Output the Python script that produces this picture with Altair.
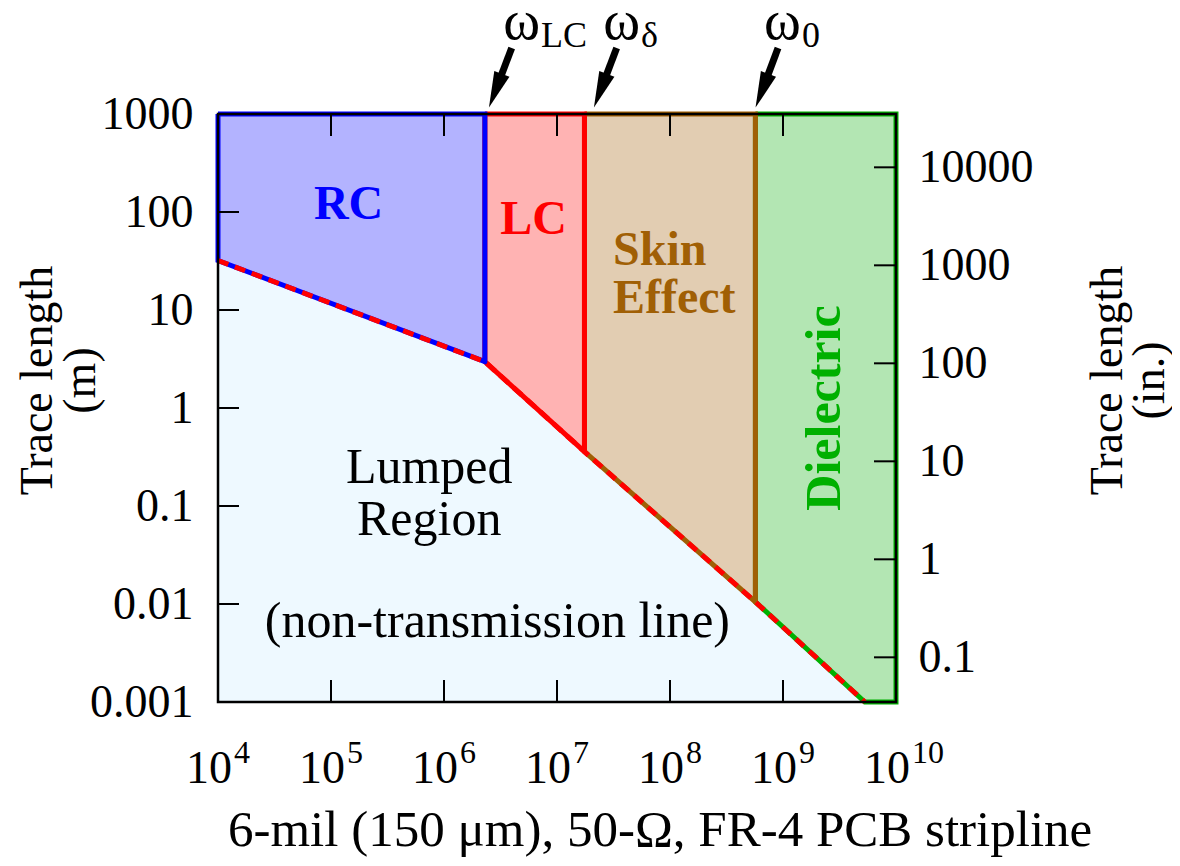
import altair as alt
import pandas as pd

FONT = "Liberation Serif"
W, H = 678, 588

x_domain = [1e4, 1e10]
y_domain = [1e-3, 1e3]
in_per_m = 35.0  # right-hand (inch) axis as drawn in the figure

# Boundary of the lumped region: corner frequencies (rad/s) and lengths (m)
corner_w = [1e4, 2.3e6, 1.75e7, 5.7e8, 5.3e9, 1e10]
corner_len = [32.0, 2.97, 0.358, 0.0105, 0.001, 0.001]

region_names = ["RC", "LC", "Skin Effect", "Dielectric"]
region_first = [0, 1, 2, 3]
region_last = [1, 2, 3, 5]
region_fill = ["#b3b3ff", "#ffb3b3", "#e2cdb2", "#b3e6b3"]
region_edge = ["#0000ff", "#ff0000", "#a05f05", "#00b000"]
lumped_fill = "#eef9ff"

x_tick_vals = [1e5, 1e6, 1e7, 1e8, 1e9]
x_exponents = [4, 5, 6, 7, 8, 9, 10]
ym_tick_vals = [100, 10, 1, 0.1, 0.01]
ym_label_vals = [1000, 100, 10, 1, 0.1, 0.01, 0.001]
yin_tick_vals = [10000, 1000, 100, 10, 1, 0.1]

x_title = "6-mil (150 μm), 50-Ω, FR-4 PCB stripline"
x_title_x = 10 ** 7.912

# region labels (data coordinates)
label_text = ["RC", "LC", "Skin\nEffect", "Dielectric"]
label_x = [1.43e5, 6.2e6, 3.13e7, 2.36e9]
label_y = [118.0, 83.0, 28.8, 1.0]
lumped_x = [7.4e5, 2.97e6]
lumped_y = [0.172, 0.0046]
lumped_text = ["Lumped\nRegion", "(non-transmission line)"]

# omega markers above the plot
omega_sub = ["LC", "δ", "0"]
omega_x = [10 ** 6.850, 10 ** 7.735, 10 ** 9.159]
omega_y = [10 ** 3.765, 10 ** 3.765, 10 ** 3.765]
omega_sub_y = [10 ** 3.684, 10 ** 3.684, 10 ** 3.684]
arrow_start_x = [10 ** 6.599, 10 ** 7.528, 10 ** 8.956]
arrow_start_y = [10 ** 3.673, 10 ** 3.673, 10 ** 3.673]
arrow_tip_x = [10 ** 6.407, 10 ** 7.336, 10 ** 8.767]
arrow_tip_y = [10 ** 3.092, 10 ** 3.092, 10 ** 3.092]

xs = alt.Scale(type="log", domain=x_domain, nice=False)
ys = alt.Scale(type="log", domain=y_domain, nice=False)
ys_in = alt.Scale(type="log", domain=[y_domain[0] * in_per_m, y_domain[1] * in_per_m], nice=False)


def xe(f="x"):
    return alt.X(f"{f}:Q", scale=xs, axis=None)


def ye(f="y", axis=None):
    if axis is None:
        return alt.Y(f"{f}:Q", scale=ys, axis=None)
    return alt.Y(f"{f}:Q", scale=ys, axis=axis)


layers = []

# lumped region fill
lumped = pd.DataFrame({"x": corner_w, "y": [y_domain[0]] * len(corner_w), "y2": corner_len})
layers.append(alt.Chart(lumped).mark_area(color=lumped_fill).encode(x=xe(), y=ye(), y2=alt.Y2("y2:Q")))

# region fills
for i in range(4):
    a, b = region_first[i], region_last[i]
    df = pd.DataFrame({"x": corner_w[a:b + 1], "y": corner_len[a:b + 1],
                       "y2": [y_domain[1]] * (b - a + 1)})
    layers.append(alt.Chart(df).mark_area(color=region_fill[i]).encode(
        x=xe(), y=ye(), y2=alt.Y2("y2:Q")))

# region outlines
for i in [3, 2, 1, 0]:
    a, b = region_first[i], region_last[i]
    px = [corner_w[a]] + corner_w[a:b + 1] + [corner_w[b], corner_w[a]]
    py = [y_domain[1]] + corner_len[a:b + 1] + [y_domain[1], y_domain[1]]
    df = pd.DataFrame({"x": px, "y": py, "o": list(range(len(px)))})
    layers.append(alt.Chart(df).mark_line(color=region_edge[i], strokeWidth=5).encode(
        x=xe(), y=ye(), order="o:Q"))

# dashed red boundary of the lumped region
dash = pd.DataFrame({"x": corner_w[:5], "y": corner_len[:5]})
layers.append(alt.Chart(dash).mark_line(color="#ff0000", strokeWidth=5, strokeDash=[11, 7]).encode(
    x=xe(), y=ye()))

# frame with left axis
left_axis = alt.Axis(orient="left", values=ym_label_vals, format="~g", labelFont=FONT, labelFontSize=46,
                     labelColor="black", labelPadding=25, ticks=False, tickSize=0, domain=False,
                     grid=False, labelOverlap=False, title=["Trace length", "(m)"], titleFont=FONT,
                     titleFontSize=46, titleFontWeight="normal", titleColor="black", titleAngle=270,
                     titleAlign="center", titleBaseline="middle", titleX=-181, titleY=266,
                     titleLineHeight=43)
frame_df = pd.DataFrame({"x": [x_domain[0]], "x2": [x_domain[1]], "y": [y_domain[0]], "y2": [y_domain[1]]})
layers.append(alt.Chart(frame_df).mark_rect(fillOpacity=0, stroke="black", strokeWidth=2.5).encode(
    x=xe(), x2=alt.X2("x2:Q"), y=ye(axis=left_axis), y2=alt.Y2("y2:Q")))

# inward ticks
xt = pd.DataFrame({"x": x_tick_vals})
layers.append(alt.Chart(xt).mark_rule(color="black", strokeWidth=2).encode(
    x=xe(), y=alt.value(H), y2=alt.value(H - 22)))
layers.append(alt.Chart(xt).mark_rule(color="black", strokeWidth=2).encode(
    x=xe(), y=alt.value(0), y2=alt.value(22)))
ymt = pd.DataFrame({"y": ym_tick_vals})
layers.append(alt.Chart(ymt).mark_rule(color="black", strokeWidth=2).encode(
    y=ye(), x=alt.value(0), x2=alt.value(21)))

right_axis = alt.Axis(orient="right", values=yin_tick_vals, format="~g", labelFont=FONT, labelFontSize=46,
                      labelColor="black", labelPadding=22, ticks=False, tickSize=0, domain=False,
                      grid=False, labelOverlap=False, title=["Trace length", "(in.)"], titleFont=FONT,
                      titleFontSize=46, titleFontWeight="normal", titleColor="black", titleAngle=270,
                      titleAlign="center", titleBaseline="middle", titleX=211, titleY=266,
                      titleLineHeight=42)
yit = pd.DataFrame({"y": yin_tick_vals})
layers.append(alt.Chart(yit).mark_rule(color="black", strokeWidth=2).encode(
    y=alt.Y("y:Q", scale=ys_in, axis=right_axis), x=alt.value(W), x2=alt.value(W - 22)))

# x tick labels 10^n
xl = pd.DataFrame({"x": [10.0 ** e for e in x_exponents], "e": [str(e) for e in x_exponents]})
layers.append(alt.Chart(xl).mark_text(font=FONT, fontSize=46, align="center", baseline="alphabetic",
                                      dx=-9, color="black").encode(
    x=xe(), y=alt.value(H + 81), text=alt.value("10")))
layers.append(alt.Chart(xl).mark_text(font=FONT, fontSize=32, align="left", baseline="alphabetic",
                                      dx=16, color="black").encode(
    x=xe(), y=alt.value(H + 61), text="e:N"))

# x title
xtitle = pd.DataFrame({"x": [x_title_x], "t": [x_title]})
layers.append(alt.Chart(xtitle).mark_text(font=FONT, fontSize=51, align="center", baseline="alphabetic",
                                          color="black").encode(
    x=xe(), y=alt.value(H + 144), text="t:N"))

# region labels
for i in range(4):
    df = pd.DataFrame({"x": [label_x[i]], "y": [label_y[i]], "t": [label_text[i]]})
    if i == 2:
        mk = alt.Chart(df).mark_text(font=FONT, fontSize=48, fontWeight="bold", color=region_edge[i],
                                     align="left", baseline="alphabetic", lineBreak="\n", lineHeight=48)
    elif i == 3:
        mk = alt.Chart(df).mark_text(font=FONT, fontSize=50, fontWeight="bold", color=region_edge[i],
                                     align="center", baseline="middle", angle=270)
    else:
        mk = alt.Chart(df).mark_text(font=FONT, fontSize=48, fontWeight="bold", color=region_edge[i],
                                     align="center", baseline="middle")
    layers.append(mk.encode(x=xe(), y=ye(), text="t:N"))

lp = pd.DataFrame({"x": lumped_x, "y": lumped_y, "t": lumped_text})
layers.append(alt.Chart(lp).mark_text(font=FONT, fontSize=50, color="black", align="center",
                                      baseline="alphabetic", lineBreak="\n", lineHeight=52).encode(
    x=xe(), y=ye(), text="t:N"))

# arrows
arr = pd.DataFrame({"sx": arrow_start_x, "sy": arrow_start_y, "tx": arrow_tip_x, "ty": arrow_tip_y})
arr["ex"] = arr["tx"] * (arr["sx"] / arr["tx"]) ** 0.3
arr["ey"] = arr["ty"] * (arr["sy"] / arr["ty"]) ** 0.3
arr["hx"] = arr["tx"] * (arr["sx"] / arr["tx"]) ** 0.25
arr["hy"] = arr["ty"] * (arr["sy"] / arr["ty"]) ** 0.25
layers.append(alt.Chart(arr).mark_rule(color="black", strokeWidth=7).encode(
    x=xe("sx"), y=ye("sy"), x2=alt.X2("ex:Q"), y2=alt.Y2("ey:Q")))
layers.append(alt.Chart(arr).mark_point(shape="M-0.45,-1L0.45,-1L0,1Z", filled=True, size=1300, angle=21,
                                        color="black", opacity=1).encode(x=xe("hx"), y=ye("hy")))

om = pd.DataFrame({"x": omega_x, "y": omega_y, "ys": omega_sub_y, "s": omega_sub})
layers.append(alt.Chart(om).mark_text(font=FONT, fontSize=56, color="black", align="right",
                                      baseline="alphabetic", text="ω").encode(x=xe(), y=ye()))
layers.append(alt.Chart(om).mark_text(font=FONT, fontSize=36, color="black", align="left",
                                      baseline="alphabetic", dx=1).encode(x=xe(), y=ye("ys"), text="s:N"))

chart = alt.layer(*layers).resolve_scale(y="independent").properties(
    width=W, height=H,
    autosize=alt.AutoSizeParams(type="none"),
    padding={"left": 210, "top": 106, "right": 276, "bottom": 156},
).configure_view(strokeWidth=0)

chart.save("out.html", embed_options={"renderer": "svg", "actions": False})
